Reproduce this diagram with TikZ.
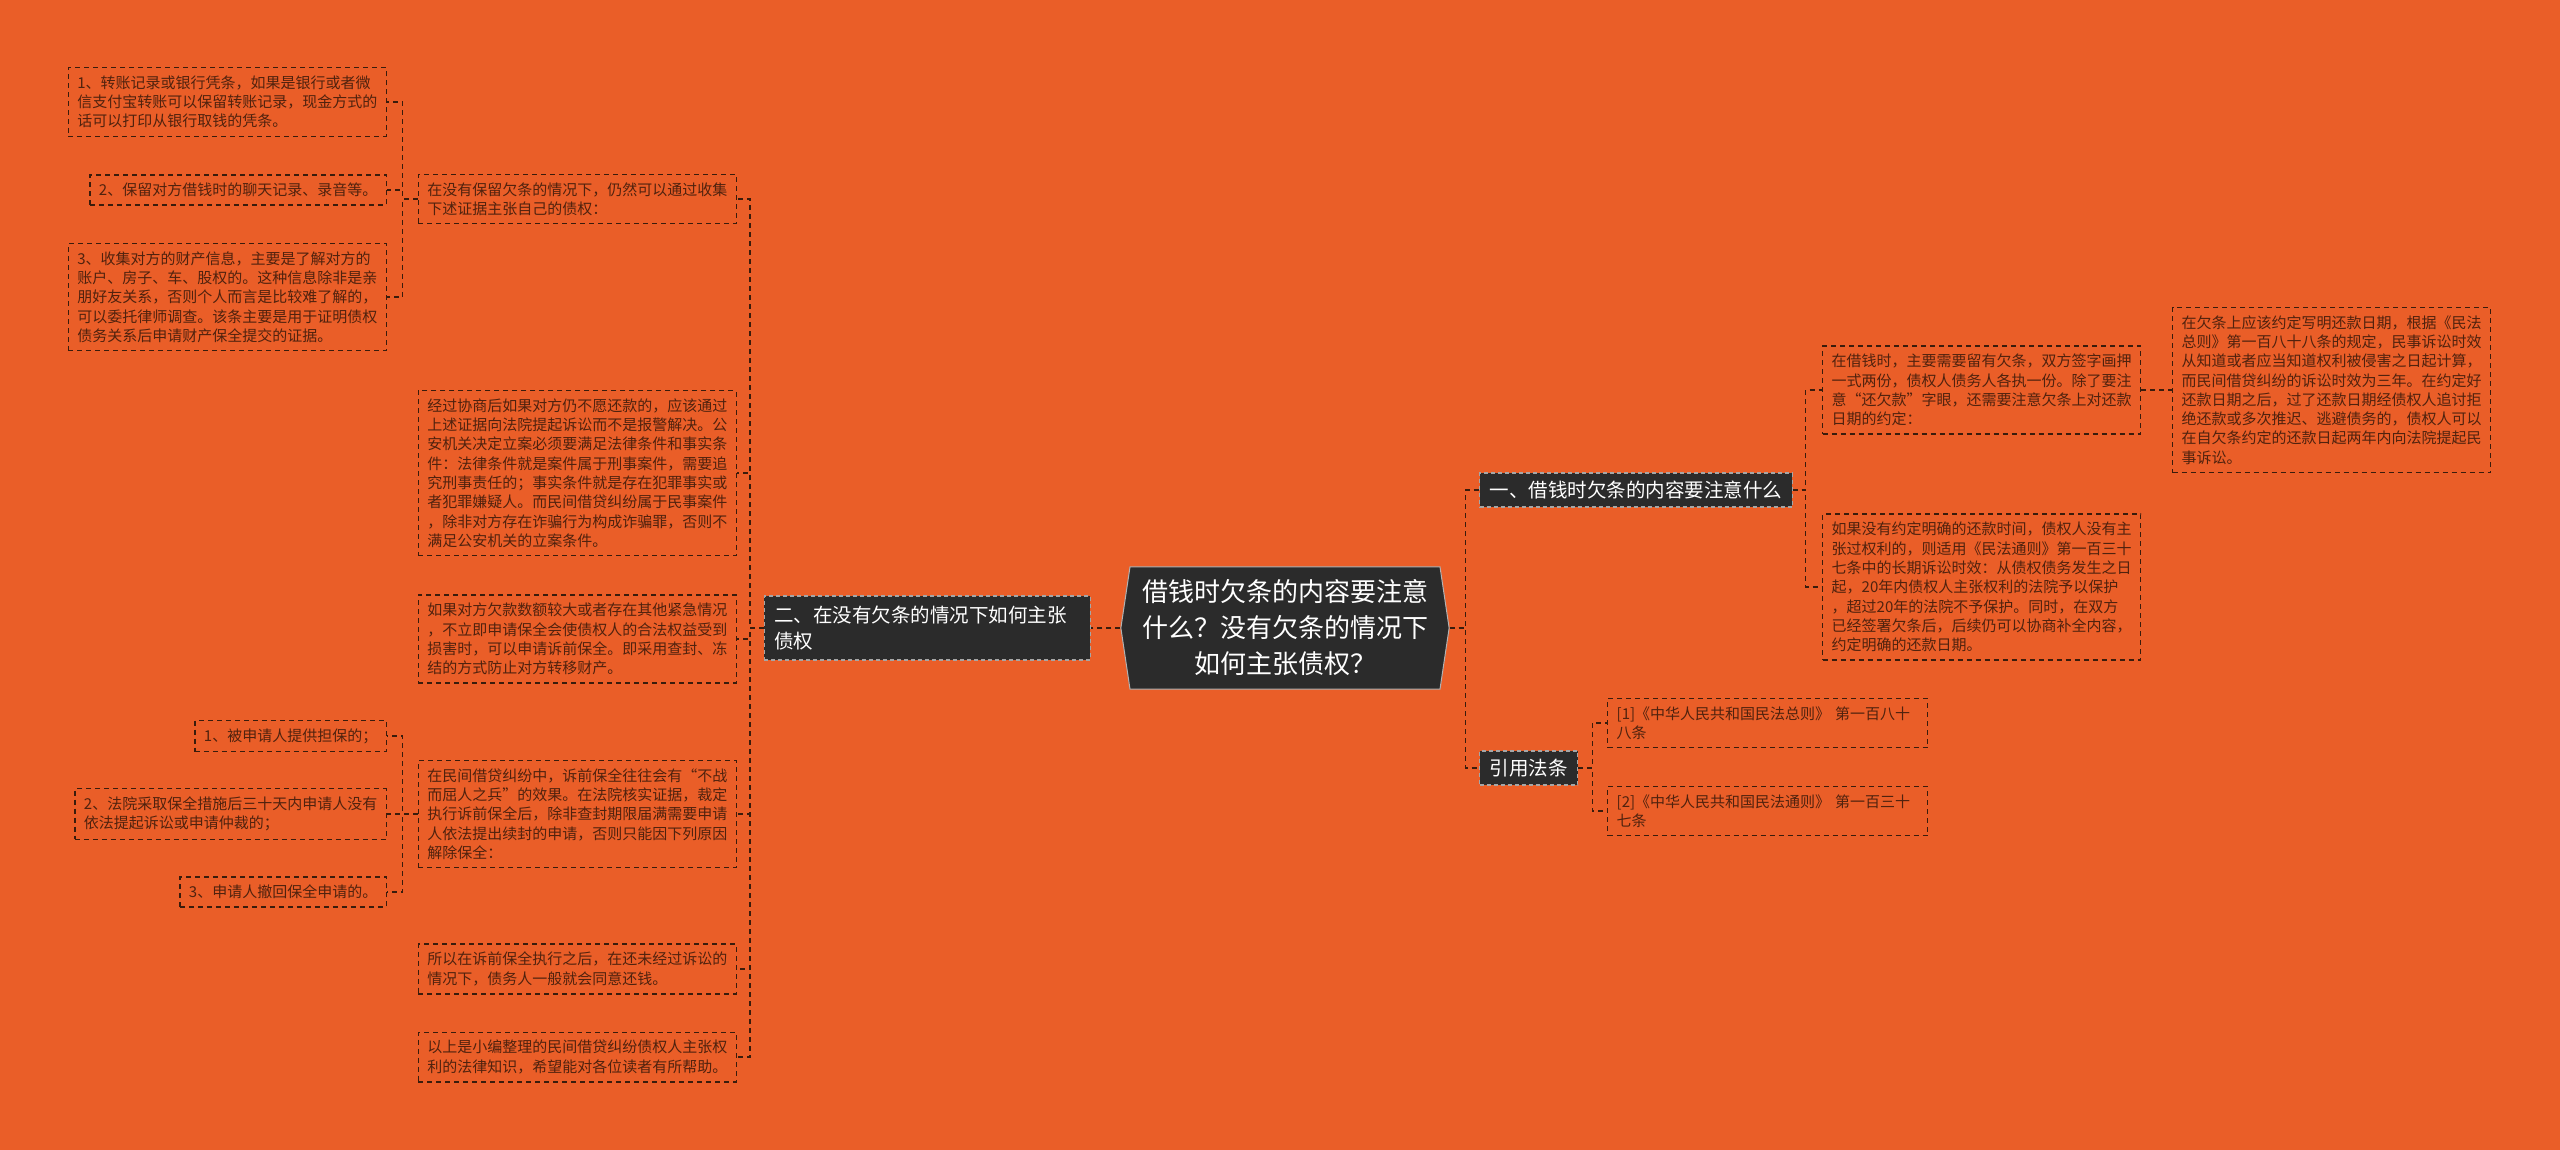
\documentclass[tikz,border=0pt]{standalone}
\usepackage{fontspec}
\setmainfont{Noto Sans CJK SC}
\usetikzlibrary{shapes.symbols}

\begin{document}
\begin{tikzpicture}[x=1pt,y=-1pt]

	\definecolor{bgorange}{RGB}{234,94,40}
	\definecolor{darkbox}{RGB}{43,43,43}
	\definecolor{leaftext}{RGB}{80,34,14}
	\definecolor{leafline}{RGB}{58,28,12}

	\tikzstyle{edge} = [draw=leafline, line width=1.4pt, dash pattern=on 5pt off 4pt]

	\fill[bgorange] (0,0) rectangle (2560,1150);
	\useasboundingbox (0,0) rectangle (2560,1150);

	% centre
	\node[signal, signal to=west and east, signal pointer angle=163, fill=darkbox, draw=gray!60, line width=1pt, text=white, align=center, inner xsep=12pt, inner ysep=13pt, font=\fontsize{26}{36}\selectfont] (root) at (1285,628) {借钱时欠条的内容要注意\\什么？没有欠条的情况下\\如何主张债权？};

	\tikzset{branch/.style = {shape=rectangle, fill=darkbox, draw=gray!70, line width=1.2pt, dash pattern=on 4pt off 3pt, text=white, align=left, inner xsep=10pt, inner ysep=8pt, font=\fontsize{19.5}{25.7}\selectfont}}
	\node[branch, anchor=west] (b1) at (1479,490) {一、借钱时欠条的内容要注意什么};
	\node[branch, anchor=east, inner ysep=10pt, text width=306pt] (b2) at (1091,628) {二、在没有欠条的情况下如何主张\\债权};
	\node[branch, anchor=west] (b3) at (1479,768) {引用法条};

	\tikzset{leaf/.style = {shape=rectangle, draw=leafline, line width=1.4pt, dash pattern=on 5pt off 4pt, text=leaftext, align=left, inner xsep=9pt, inner ysep=8pt, font=\fontsize{15}{19.3}\selectfont}}

	% right side
	\node[leaf, anchor=west] (r1a) at (1822,390) {在借钱时，主要需要留有欠条，双方签字画押\\一式两份，债权人债务人各执一份。除了要注\\意“还欠款”字眼，还需要注意欠条上对还款\\日期的约定：};
	\node[leaf, anchor=west] (r1b) at (1822,587) {如果没有约定明确的还款时间，债权人没有主\\张过权利的，则适用《民法通则》第一百三十\\七条中的长期诉讼时效：从债权债务发生之日\\起，20年内债权人主张权利的法院予以保护\\，超过20年的法院不予保护。同时，在双方\\已经签署欠条后，后续仍可以协商补全内容，\\约定明确的还款日期。};
	\node[leaf, anchor=west] (r1c) at (2172,390) {在欠条上应该约定写明还款日期，根据《民法\\总则》第一百八十八条的规定，民事诉讼时效\\从知道或者应当知道权利被侵害之日起计算，\\而民间借贷纠纷的诉讼时效为三年。在约定好\\还款日期之后，过了还款日期经债权人追讨拒\\绝还款或多次推迟、逃避债务的，债权人可以\\在自欠条约定的还款日起两年内向法院提起民\\事诉讼。};
	\node[leaf, anchor=west, text width=302pt] (c1) at (1607,723) {[1]《中华人民共和国民法总则》 第一百八十\\八条};
	\node[leaf, anchor=west, text width=302pt] (c2) at (1607,811) {[2]《中华人民共和国民法通则》 第一百三十\\七条};

	% left side
	\node[leaf, anchor=east] (l1) at (737,199) {在没有保留欠条的情况下，仍然可以通过收集\\下述证据主张自己的债权：};
	\node[leaf, anchor=east] (l2) at (737,473) {经过协商后如果对方仍不愿还款的，应该通过\\上述证据向法院提起诉讼而不是报警解决。公\\安机关决定立案必须要满足法律条件和事实条\\件：法律条件就是案件属于刑事案件，需要追\\究刑事责任的；事实条件就是存在犯罪事实或\\者犯罪嫌疑人。而民间借贷纠纷属于民事案件\\，除非对方存在诈骗行为构成诈骗罪，否则不\\满足公安机关的立案条件。};
	\node[leaf, anchor=east] (l3) at (737,639) {如果对方欠款数额较大或者存在其他紧急情况\\，不立即申请保全会使债权人的合法权益受到\\损害时，可以申请诉前保全。即采用查封、冻\\结的方式防止对方转移财产。};
	\node[leaf, anchor=east] (l4) at (737,814) {在民间借贷纠纷中，诉前保全往往会有“不战\\而屈人之兵”的效果。在法院核实证据，裁定\\执行诉前保全后，除非查封期限届满需要申请\\人依法提出续封的申请，否则只能因下列原因\\解除保全：};
	\node[leaf, anchor=east] (l5) at (737,969) {所以在诉前保全执行之后，在还未经过诉讼的\\情况下，债务人一般就会同意还钱。};
	\node[leaf, anchor=east] (l6) at (737,1057) {以上是小编整理的民间借贷纠纷债权人主张权\\利的法律知识，希望能对各位读者有所帮助。};

	\node[leaf, anchor=east] (g1) at (387,102) {1、转账记录或银行凭条，如果是银行或者微\\信支付宝转账可以保留转账记录，现金方式的\\话可以打印从银行取钱的凭条。};
	\node[leaf, anchor=east] (g2) at (387,190) {2、保留对方借钱时的聊天记录、录音等。};
	\node[leaf, anchor=east] (g3) at (387,297) {3、收集对方的财产信息，主要是了解对方的\\账户、房子、车、股权的。这种信息除非是亲\\朋好友关系，否则个人而言是比较难了解的，\\可以委托律师调查。该条主要是用于证明债权\\债务关系后申请财产保全提交的证据。};

	\node[leaf, anchor=east] (h1) at (387,736) {1、被申请人提供担保的；};
	\node[leaf, anchor=east] (h2) at (387,814) {2、法院采取保全措施后三十天内申请人没有\\依法提起诉讼或申请仲裁的；};
	\node[leaf, anchor=east] (h3) at (387,892) {3、申请人撤回保全申请的。};

	\draw[edge] (root.west) -- (b2.east);
	\draw[edge] (root.east) -- ++(16,0) |- (b1.west);
	\draw[edge] (root.east) -- ++(16,0) |- (b3.west);

	\draw[edge] (b1.east) -- ++(13,0) |- (r1a.west);
	\draw[edge] (b1.east) -- ++(13,0) |- (r1b.west);
	\draw[edge] (r1a.east) -- ++(12,0) |- (r1c.west);
	\draw[edge] (b3.east) -- ++(14,0) |- (c1.west);
	\draw[edge] (b3.east) -- ++(14,0) |- (c2.west);

	\foreach \n in {l1,l2,l3,l4,l5,l6}
		\draw[edge] (b2.west) -- ++(-14,0) |- (\n.east);
	\foreach \n in {g1,g2,g3}
		\draw[edge] (l1.west) -- ++(-15,0) |- (\n.east);
	\foreach \n in {h1,h2,h3}
		\draw[edge] (l4.west) -- ++(-15,0) |- (\n.east);
\end{tikzpicture}
\end{document}
